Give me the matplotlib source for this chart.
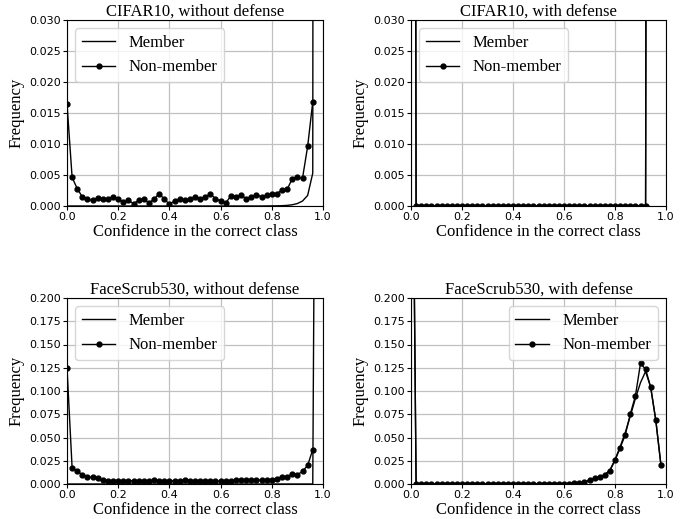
import numpy as np
import matplotlib
matplotlib.use("Agg")
import matplotlib.pyplot as plt
from matplotlib.ticker import FormatStrFormatter

# x grid (bin positions)
x_nm_cifar = [round(0.02 * i, 2) for i in range(49)]          # 0.00 .. 0.96
x_m_cifar = [round(0.02 * i, 2) for i in range(50)]           # 0.00 .. 0.98

# CIFAR10 without defense
cifar_nodef_nonmember = [0.0165, 0.0046, 0.0028, 0.00145, 0.0011, 0.0009, 0.0013, 0.0012,
                         0.0011, 0.0015, 0.0011, 0.0006, 0.0009, 0.0004, 0.0009, 0.0011,
                         0.0005, 0.0011, 0.0020, 0.0011, 0.0003, 0.0008, 0.0011, 0.0009,
                         0.0011, 0.0015, 0.0011, 0.0015, 0.0019, 0.0012, 0.0008, 0.0005,
                         0.0016, 0.0015, 0.0017, 0.0012, 0.0015, 0.0018, 0.0015, 0.0017,
                         0.0020, 0.0020, 0.0026, 0.0027, 0.0044, 0.0046, 0.0045, 0.0096,
                         0.0168]
cifar_nodef_member = [0.0, 0.0, 0.0, 0.0, 0.0, 0.0, 0.0, 0.0, 0.0, 0.0,
                      0.0, 0.0, 0.0, 0.0, 0.0, 0.0, 0.0, 0.0, 0.0, 0.0,
                      0.0, 0.0, 0.0, 0.0, 0.0, 0.0, 0.0, 0.0, 0.0, 0.0,
                      0.0, 0.0, 0.0, 0.0, 0.0, 0.0, 0.0, 0.0, 0.0, 0.00001,
                      0.00002, 0.00003, 0.00005, 0.0001, 0.0002, 0.0004, 0.0008, 0.0017,
                      0.0053, 0.95]

# CIFAR10 with defense
x_def_cifar = [round(0.02 * i, 2) for i in range(48)]         # 0.00 .. 0.94
cifar_def_member = [0.5] + [0.0] * 46 + [0.5]
cifar_def_nonmember = [0.5] + [0.0] * 46 + [0.5]

# FaceScrub530 without defense
face_nodef_nonmember = [0.125, 0.0172, 0.0136, 0.010, 0.0075, 0.007, 0.006, 0.004,
                        0.0035, 0.0036, 0.0034, 0.0033, 0.0035, 0.0034, 0.0033, 0.0036,
                        0.0034, 0.0038, 0.0031, 0.0033, 0.0032, 0.0035, 0.0033, 0.0040,
                        0.0036, 0.0033, 0.0037, 0.0032, 0.0034, 0.0031, 0.0033, 0.0034,
                        0.0036, 0.0038, 0.0040, 0.0038, 0.0040, 0.0043, 0.0040, 0.0045,
                        0.0047, 0.0057, 0.0080, 0.0075, 0.0110, 0.0100, 0.0136, 0.0200,
                        0.0370]
face_nodef_member = [0.0, 0.0, 0.0, 0.0, 0.0, 0.0, 0.0, 0.0, 0.0, 0.0,
                     0.0, 0.0, 0.0, 0.0, 0.0, 0.0, 0.0, 0.0, 0.0, 0.0,
                     0.0, 0.0, 0.0, 0.0, 0.0, 0.0, 0.0, 0.0, 0.0, 0.0,
                     0.0, 0.0, 0.0, 0.0, 0.0, 0.0, 0.0, 0.0, 0.0, 0.0,
                     0.0, 0.0, 0.0, 0.0, 0.0, 0.0, 0.0, 0.0, 0.0, 0.95]

# FaceScrub530 with defense
x_face_def = [round(0.02 * i, 2) for i in range(50)]          # 0.00 .. 0.98
face_def_nonmember = [0.6] + [0.0] * 30 + [0.0005, 0.001, 0.0015, 0.002, 0.004, 0.006, 0.007,
                                           0.0097, 0.0143, 0.0255, 0.0387, 0.0527, 0.0753,
                                           0.0946, 0.1297, 0.1233, 0.104, 0.0685, 0.0208]
face_def_member = [0.6] + [0.0] * 30 + [0.0005, 0.001, 0.0015, 0.002, 0.004, 0.006, 0.007,
                                        0.0100, 0.0150, 0.0260, 0.0400, 0.0550, 0.0730,
                                        0.0920, 0.1090, 0.1210, 0.104, 0.0685, 0.0208]

titles = ["CIFAR10, without defense", "CIFAR10, with defense",
          "FaceScrub530, without defense", "FaceScrub530, with defense"]
ylims = [0.03, 0.03, 0.2, 0.2]

serif = ["Liberation Serif", "DejaVu Serif"]

fig = plt.figure(figsize=(6.93, 5.19), dpi=100)
W, H = 693, 519
boxes = [(67, 20, 323, 206), (411, 20, 666, 206), (67, 298, 323, 484), (411, 298, 666, 484)]

panels = [
    (x_m_cifar, cifar_nodef_member, x_nm_cifar, cifar_nodef_nonmember, "upper left"),
    (x_def_cifar, cifar_def_member, x_def_cifar, cifar_def_nonmember, "upper left"),
    (x_m_cifar, face_nodef_member, x_nm_cifar, face_nodef_nonmember, "upper left"),
    (x_face_def, face_def_member, x_face_def, face_def_nonmember, "upper right"),
]

for i, (box, title, ylim, (xm, ym, xn, yn, loc)) in enumerate(zip(boxes, titles, ylims, panels)):
    l, t, r, b = box
    ax = fig.add_axes([l / W, 1 - b / H, (r - l) / W, (b - t) / H])
    ax.plot(xm, ym, color="black", linewidth=1.0, label="Member")
    ax.plot(xn, yn, color="black", linewidth=1.0, marker="o", markersize=3.5, label="Non-member")
    ax.set_xlim(0, 1.0)
    ax.set_ylim(0, ylim)
    ax.set_xticks(np.arange(0, 1.01, 0.2))
    if ylim == 0.03:
        ax.set_yticks(np.arange(0, 0.0301, 0.005))
    else:
        ax.set_yticks(np.arange(0, 0.2001, 0.025))
    ax.yaxis.set_major_formatter(FormatStrFormatter("%.3f"))
    ax.tick_params(labelsize=8, length=3, pad=1.5)
    ax.grid(True, color="#c0c0c0", linewidth=0.9)
    ax.set_axisbelow(True)
    ax.set_title(title, fontsize=12, family=serif, pad=2)
    ax.set_xlabel("Confidence in the correct class", fontsize=12, family=serif, labelpad=1)
    ax.set_ylabel("Frequency", fontsize=12, family=serif, labelpad=3)
    ax.legend(loc=loc, prop={"family": serif, "size": 12}, handlelength=2.0)

fig.savefig("out.png", dpi=100)
